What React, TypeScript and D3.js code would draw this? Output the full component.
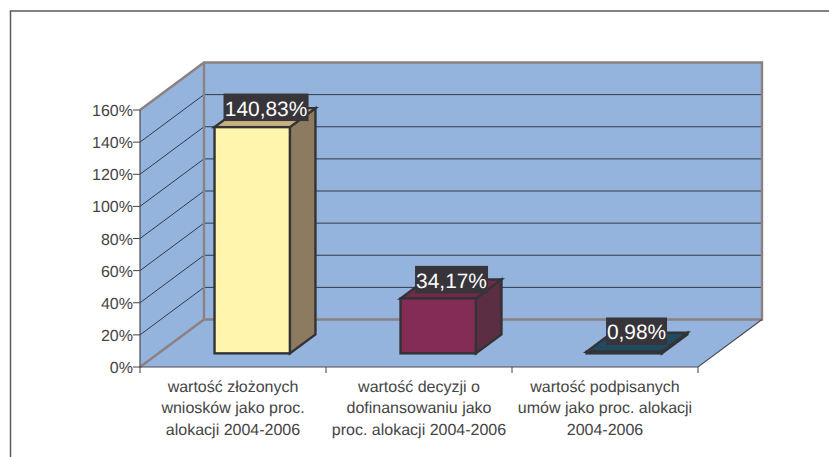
import React from "react";
import * as d3 from "d3";

const categories = ["c1", "c2", "c3"];
const categoryLines = [
  ["wartość złożonych", "wniosków jako proc.", "alokacji 2004-2006"],
  ["wartość decyzji o", "dofinansowaniu jako", "proc. alokacji 2004-2006"],
  ["wartość podpisanych", "umów jako proc. alokacji", "2004-2006"],
];
const values = [140.83, 34.17, 0.98];
const valueLabels = ["140,83%", "34,17%", "0,98%"];
const ticks = [0, 20, 40, 60, 80, 100, 120, 140, 160];
const frontColors = ["#fff5ad", "#832c56", "#1f4a60"];
const sideColors = ["#8d7b5f", "#5c2e44", "#17384a"];
const topColors = ["#c7b27f", "#6e2a4b", "#1f4a60"];

const W = 829, H = 457;
const DX = 64, DY = -47.5;
const x = d3.scaleBand<string>().domain(categories).range([140, 698]);
const y = d3.scaleLinear().domain([0, 160]).range([367, 110]);
const FONT = '"Liberation Sans", Arial, sans-serif';
const WALL = "#94b4de", FRAME = "#8c8080", GRID = "#333a4a", BAR = "#333336", TEXT = "#454545";
const BAR_W = 0.405, FRONT = 0.3, DEPTH = 0.4;
const LABEL_W = [85, 73, 61];
const LABEL_H = 27.5;
const LABEL_DX = [14, 19.5, 24.5];
const LABEL_TOP = [33, 32, 33.7];

const pts = (p: number[][]) => p.map((q) => q.join(",")).join(" ");

export default function App() {
  const x0 = x.range()[0], x1 = x.range()[1];
  const y0 = y(0), yT = y(160);
  return (
    <svg width={W} height={H} viewBox={`0 0 ${W} ${H}`} style={{ position: "absolute", left: 0, top: 0 }} fontFamily={FONT} textRendering="geometricPrecision">
      <rect width={W} height={H} fill="#fff" />
      <path d={`M10.5 ${H} V11 H${W}`} fill="none" stroke="#5a5a5a" strokeWidth={1.5} />

      {/* walls & floor */}
      <polygon points={pts([[x0, y0], [x0, yT], [x0 + DX, yT + DY], [x1 + DX, yT + DY], [x1 + DX, y0 + DY], [x1, y0]])} fill={WALL} />
      {ticks.slice(1, -1).map((t) => (
        <path key={t} d={`M${x0} ${y(t)} L${x0 + DX} ${y(t) + DY} H${x1 + DX}`} fill="none" stroke={GRID} strokeWidth={1} />
      ))}
      <path d={`M${x0} ${yT} L${x0 + DX} ${yT + DY} H${x1 + DX} V${y0 + DY} H${x0 + DX} V${yT + DY} M${x0 + DX} ${y0 + DY} L${x0} ${y0}`} fill="none" stroke={FRAME} strokeWidth={2.4} />
      <path d={`M${x0} ${yT} V${y0} H${x1} L${x1 + DX} ${y0 + DY}`} fill="none" stroke="#4c4c52" strokeWidth={1.2} />

      {/* axis ticks */}
      {ticks.map((t) => (
        <g key={t}>
          <line x1={x0 - 7} x2={x0} y1={y(t)} y2={y(t)} stroke="#444" strokeWidth={1} />
          <text x={x0 - 7} y={y(t) + 6} textAnchor="end" fontSize={16} fill={TEXT}>{t}%</text>
        </g>
      ))}
      {[...categories.map((c) => x(c) as number), x1].map((v) => (
        <line key={v} x1={v} x2={v} y1={y0} y2={y0 + 6} stroke="#444" strokeWidth={1} />
      ))}
      {categories.map((c, i) => (
        <text key={c} textAnchor="middle" fontSize={16} fill={TEXT}>
          {categoryLines[i].map((line, j) => (
            <tspan key={j} x={(x(c) as number) + x.bandwidth() / 2} y={392 + j * 21.4}>{line}</tspan>
          ))}
        </text>
      ))}

      {/* bars */}
      {categories.map((c, i) => {
        const band = x.bandwidth();
        const w = band * BAR_W;
        const cx = (x(c) as number) + band / 2 + DX * FRONT;
        const l = cx - w / 2, r = cx + w / 2;
        const b = y0 + DY * FRONT + 0.6;
        const t = b - (y0 - y(values[i]));
        const dx = DX * DEPTH, dy = DY * DEPTH;
        return (
          <g key={c} stroke={BAR} strokeWidth={2.4} strokeLinejoin="miter">
            <polygon points={pts([[r, b], [r, t], [r + dx, t + dy], [r + dx, b + dy]])} fill={sideColors[i]} />
            <polygon points={pts([[l, t], [r, t], [r + dx, t + dy], [l + dx, t + dy]])} fill={topColors[i]} />
            <rect x={l} y={t} width={w} height={b - t} fill={frontColors[i]} />
          </g>
        );
      })}

      {/* data labels */}
      {categories.map((c, i) => {
        const band = x.bandwidth();
        const l = (x(c) as number) + band / 2 + DX * FRONT - band * BAR_W / 2 + LABEL_DX[i];
        const top = y0 + DY * FRONT - (y0 - y(values[i])) - LABEL_TOP[i];
        return (
          <g key={c}>
            <rect x={l - 5} y={top} width={LABEL_W[i]} height={LABEL_H} fill="#37353a" />
            <text x={l - 5 + LABEL_W[i] / 2} y={top + 22} textAnchor="middle" fontSize={20.9} fill="#fff">{valueLabels[i]}</text>
          </g>
        );
      })}
    </svg>
  );
}
